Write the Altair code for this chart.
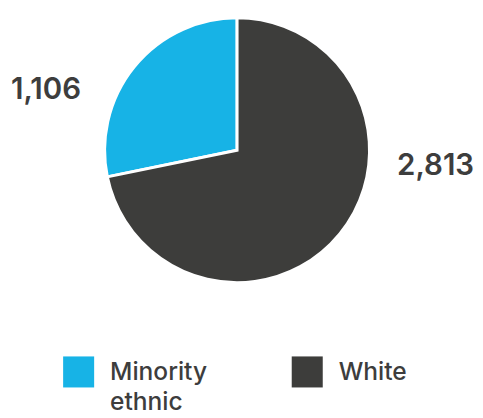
import altair as alt
import pandas as pd

categories = ["Minority ethnic", "White"]
values = [1106, 2813]
colors = ["#17b3e6", "#3d3d3b"]

df = pd.DataFrame({"category": categories, "value": values})

base = alt.Chart(df)

arc = base.mark_arc(outerRadius=135, stroke="white", strokeWidth=3).encode(
    theta=alt.Theta("value:Q", stack=True),
    color=alt.Color(
        "category:N",
        scale=alt.Scale(domain=categories, range=colors),
        legend=alt.Legend(
            title=None,
            orient="none",
            legendX=56,
            legendY=349,
            direction="horizontal",
            columns=2,
            columnPadding=86,
            symbolType="square",
            symbolSize=1000,
            symbolStrokeWidth=0,
            labelFont="Inter",
            labelFontSize=25,
            labelFontWeight=500,
            labelColor="#3d3d3d",
            labelOffset=16,
            labelBaseline="top",
            labelLimit=300,
            labelExpr="datum.label == 'Minority ethnic' ? ['Minority', 'ethnic'] : [datum.label, '']",
        ),
    ),
    order=alt.Order("category:N", sort="descending"),
)

def label_layer(cat, offset, radius):
    return (
        base.transform_window(
            cum="sum(value)",
            sort=[alt.SortField("category", order="descending")],
            frame=[None, 0],
        )
        .transform_calculate(mid="datum.cum - datum.value / 2")
        .transform_filter(alt.datum.category == cat)
        .mark_text(
            radius=radius,
            thetaOffset=offset,
            font="Inter",
            fontSize=30,
            fontWeight=600,
            color="#3d3d3d",
            align="center",
            baseline="middle",
        )
        .encode(
            theta=alt.Theta("mid:Q", stack=None),
            text=alt.Text("value:Q", format=","),
        )
    )

chart = (
    alt.layer(
        arc,
        label_layer("Minority ethnic", -0.382, 204),
        label_layer("White", -0.602, 203),
    )
    .properties(width=467, height=278, padding=0)
    .configure_view(stroke=None)
    .configure(style={"guide-label": {"dy": -12, "lineHeight": 31}})
)

chart.save("out.html", embed_options={"renderer": "svg", "actions": False})
